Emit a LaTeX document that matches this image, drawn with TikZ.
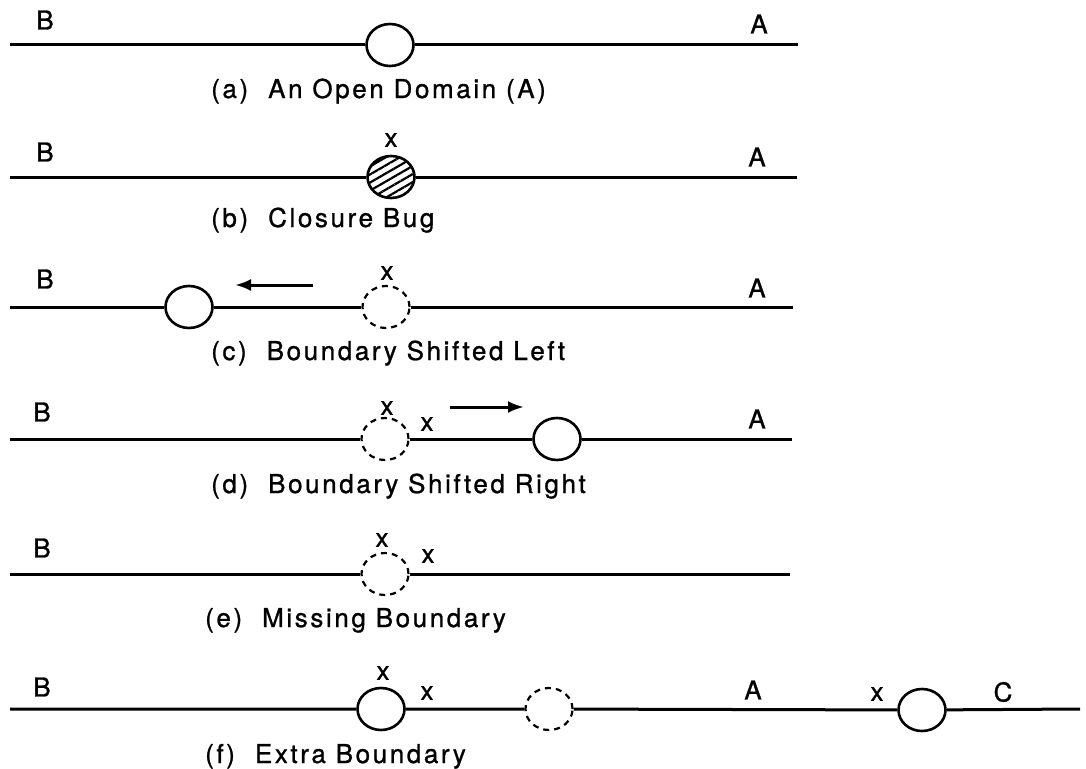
\documentclass[tikz,border=0pt]{standalone}
\usepackage{fontspec}
\setsansfont[LetterSpace=10,FakeBold=1]{TeX Gyre Heros}
\usetikzlibrary{shapes.geometric,patterns.meta,arrows.meta}
\tikzset{
  bnd/.style={draw,line width=2.6pt,ellipse,minimum width=47pt,minimum height=42pt,inner sep=0pt},
  gap/.style={bnd,line width=2.2pt,dash pattern=on 6pt off 5pt},
  bug/.style={bnd,pattern={Lines[angle=30,distance=7pt,line width=2.2pt]}},
  axe/.style={line width=3pt},
  lbl/.style={font=\sffamily\fontsize{26}{30}\selectfont,inner sep=0pt},
  xmk/.style={lbl},
  legende/.style={lbl,anchor=base west},
  fleche/.style={line width=3pt,-{Latex[length=16pt,width=12pt]}}
}
\begin{document}
\begin{tikzpicture}[x=1pt,y=-1pt]
    \useasboundingbox (0,0) rectangle (1086,768);
    % (a) domaine ouvert
    \begin{scope}[shift={(0,45)}]
        \coordinate (a-l) at (10,0); \coordinate (a-r) at (798,0);
        \node[bnd] (a-o) at (390,0) {};
        \draw[axe] (a-l) -- (a-o) -- (a-r);
        \node[lbl] (a-B) at (45,-25) {B};
        \node[lbl] (a-A) at (759,-21) {A};
        \node[legende] (a-t) at (211,53) {(a)\hspace{20pt}An Open Domain (A)};
    \end{scope}
    % (b) bug de fermeture
    \begin{scope}[shift={(0,177)}]
        \coordinate (b-l) at (10,0); \coordinate (b-r) at (797,0);
        \node[bug] (b-o) at (391,0) {};
        \draw[axe] (b-l) -- (b-o) -- (b-r);
        \node[xmk] (b-x) at (391,-37) {x};
        \node[lbl] (b-B) at (45,-25) {B};
        \node[lbl] (b-A) at (757,-20) {A};
        \node[legende] (b-t) at (211,50) {(b)\hspace{20pt}Closure Bug};
    \end{scope}
    % (c) frontiere a gauche
    \begin{scope}[shift={(0,307)}]
        \coordinate (c-l) at (10,0); \coordinate (c-r) at (793,0);
        \node[bnd] (c-o) at (189,0) {};
        \node[gap] (c-g) at (386,0) {};
        \draw[axe] (c-l) -- (c-o) -- (c-g) -- (c-r);
        \node[xmk] (c-x) at (387,-34) {x};
        \coordinate (c-f1) at (313,-22); \coordinate (c-f2) at (235,-22);
        \draw[fleche] (c-f1) -- (c-f2);
        \node[lbl] (c-B) at (45,-28) {B};
        \node[lbl] (c-A) at (757,-19) {A};
        \node[legende] (c-t) at (211,53) {(c)\hspace{20pt}Boundary Shifted Left};
    \end{scope}
    % (d) frontiere a droite
    \begin{scope}[shift={(0,439)}]
        \coordinate (d-l) at (10,0); \coordinate (d-r) at (792,0);
        \node[gap] (d-g) at (385,0) {};
        \node[bnd] (d-o) at (557,0) {};
        \draw[axe] (d-l) -- (d-g) -- (d-o) -- (d-r);
        \node[xmk] (d-x1) at (387,-31) {x};
        \node[xmk] (d-x2) at (427,-15) {x};
        \coordinate (d-f1) at (450,-32); \coordinate (d-f2) at (524,-32);
        \draw[fleche] (d-f1) -- (d-f2);
        \node[lbl] (d-B) at (42,-27) {B};
        \node[lbl] (d-A) at (757,-20) {A};
        \node[legende] (d-t) at (211,54) {(d)\hspace{20pt}Boundary Shifted Right};
    \end{scope}
    % (e) frontiere manquante
    \begin{scope}[shift={(0,574)}]
        \coordinate (e-l) at (10,0); \coordinate (e-r) at (790,0);
        \node[gap] (e-g) at (385,0) {};
        \draw[axe] (e-l) -- (e-g) -- (e-r);
        \node[xmk] (e-x1) at (382,-34) {x};
        \node[xmk] (e-x2) at (428,-18) {x};
        \node[lbl] (e-B) at (42,-26) {B};
        \node[legende] (e-t) at (205,53) {(e)\hspace{20pt}Missing Boundary};
    \end{scope}
    % (f) frontiere en trop
    \begin{scope}[shift={(0,709)}]
        \coordinate (f-l) at (10,0); \coordinate (f-r) at (1080,0);
        \node[bnd] (f-o1) at (381,0) {};
        \node[gap] (f-g) at (549,0) {};
        \node[bnd] (f-o2) at (922,1) {};
        \draw[axe] (f-l) -- (f-o1) -- (f-g) -- (f-o2) -- (f-r);
        \node[xmk] (f-x1) at (383,-36) {x};
        \node[xmk] (f-x2) at (427,-16) {x};
        \node[xmk] (f-x3) at (877,-15) {x};
        \node[lbl] (f-B) at (42,-22) {B};
        \node[lbl] (f-A) at (753,-19) {A};
        \node[lbl] (f-C) at (1003,-17) {C};
        \node[legende] (f-t) at (205,54) {(f)\hspace{20pt}Extra Boundary};
    \end{scope}
\end{tikzpicture}
\end{document}
